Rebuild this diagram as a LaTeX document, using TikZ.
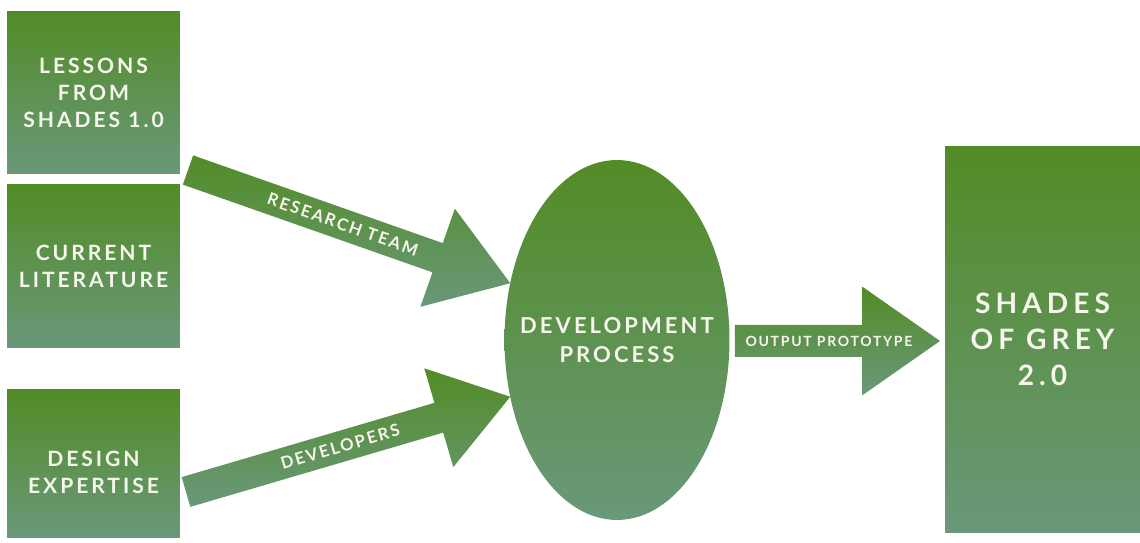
\documentclass[tikz,border=0pt]{standalone}
\usepackage{fontspec}
\setmainfont{Lato}
\newfontfamily\capsfont{Lato}[LetterSpace=14]
\newfontfamily\widecapsfont{Lato}[LetterSpace=18]
\newfontfamily\tightcapsfont{Lato}[LetterSpace=12]
\usetikzlibrary{calc,shapes.geometric,positioning}
\definecolor{gtop}{RGB}{82,140,38}
\definecolor{gbot}{RGB}{106,152,122}
\definecolor{ink}{RGB}{246,246,236}
\tikzset{
    %Define gradient fill
    greenfill/.style={
           top color=gtop,
           bottom color=gbot},
    %Define style for boxes
    srcbox/.style={
           rectangle,
           greenfill,
           minimum width=3.46cm,
           outer sep=0pt,
           text=ink,
           align=center,
           font=\capsfont\bfseries\fontsize{12}{15.4}\selectfont},
    boxlbl/.style={
           text=ink,
           align=center,
           font=\capsfont\bfseries\fontsize{12}{15.4}\selectfont},
    process/.style={
           ellipse,
           greenfill,
           minimum width=4.5cm,
           minimum height=7.2cm,
           inner sep=0pt,
           outer sep=0pt},
    proclbl/.style={
           text=ink,
           align=center,
           font=\capsfont\bfseries\fontsize{12.5}{16.5}\selectfont},
    result/.style={
           rectangle,
           greenfill,
           minimum width=3.9cm,
           minimum height=7.74cm,
           outer sep=0pt,
           text=ink,
           align=center,
           font=\widecapsfont\bfseries\fontsize{16}{20.5}\selectfont},
    % Define arrow label style
    arrlbl/.style={
           text=ink,
           inner sep=0pt,
           font=\tightcapsfont\bfseries\fontsize{9.5}{11}\selectfont}
}
% fat arrow: [label options]{from}{to}{half shaft}{half head}{head length}{label}
\newcommand{\fatarrow}[7][]{%
  \coordinate (h) at ($(#3)!#6!(#2)$);
  \path[greenfill] ($(#2)!#4!90:(#3)$) -- ($(h)!#4!90:(#3)$) -- ($(h)!#5!90:(#3)$)
    -- (#3) -- ($(h)!#5!-90:(#3)$) -- ($(h)!#4!-90:(#3)$) -- ($(#2)!#4!-90:(#3)$) -- cycle;
  \path (#2) -- (h) node[arrlbl, sloped, #1] {#7};
}

\begin{document}
\begin{tikzpicture}[x=0.02cm, y=-0.02cm]
\useasboundingbox (0,0) rectangle (1140,543);
 %nodes
\node[srcbox, minimum height=3.26cm](lessons) at (93.5,92.5){LESSONS\\FROM\\SHADES 1.0};
\node[srcbox, minimum height=3.26cm, below=0.22cm of lessons](lit){CURRENT\\LITERATURE};
\node[srcbox, minimum height=2.96cm, below=0.84cm of lit,
      label={[boxlbl, yshift=-0.16cm]center:DESIGN\\EXPERTISE}](design){};
\node[process, label={[proclbl]center:DEVELOPMENT\\PROCESS}](dev) at (617,340){};
\node[result](grey) at (1042.5,339.5){SHADES\\OF GREY\\2.0};
 %arrows
\coordinate (rt) at (188,170);
\coordinate (dt) at (186,492);
\coordinate (ot) at ($(dev.east)+(5.5,1)$);
\coordinate (oh) at ($(grey.west)+(-5,1.5)$);
\fatarrow[pos=0.62]{rt}{dev.152}{0.31cm}{1.04cm}{1.54cm}{RESEARCH TEAM}
\fatarrow[pos=0.61]{dt}{dev.208}{0.31cm}{1.03cm}{1.49cm}{DEVELOPERS}
\fatarrow[pos=0.74, font=\tightcapsfont\bfseries\fontsize{8}{9}\selectfont]{ot}{oh}{0.32cm}{1.09cm}{1.56cm}{OUTPUT PROTOTYPE}
\end{tikzpicture}
\end{document}
